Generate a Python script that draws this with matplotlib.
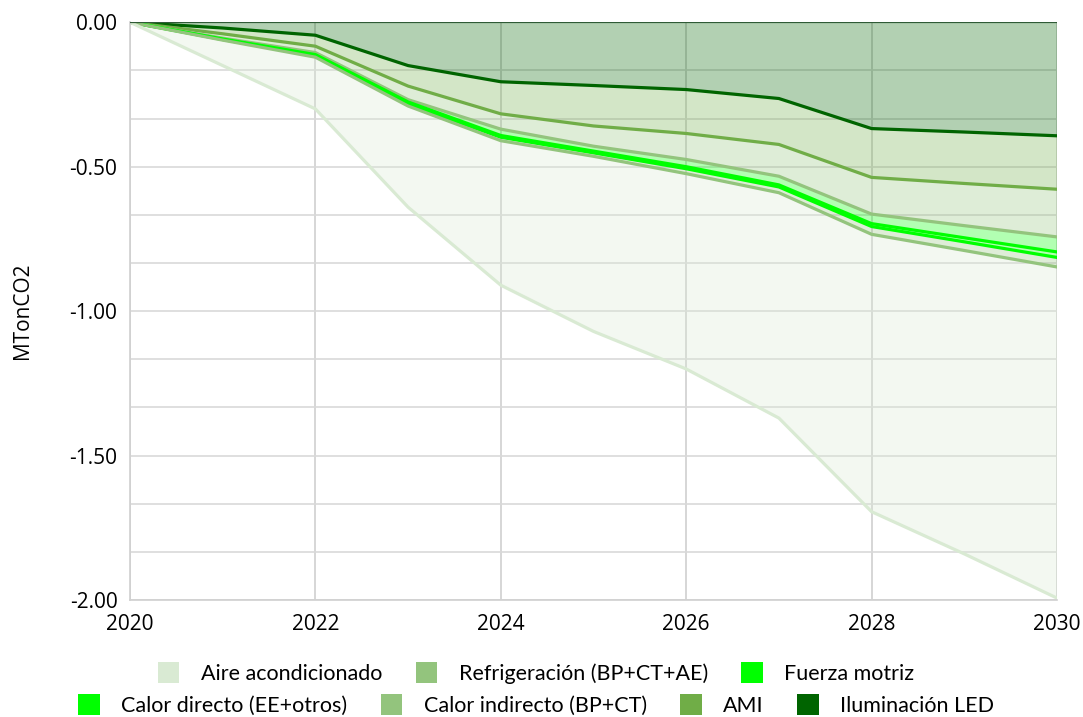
import numpy as np
import matplotlib
matplotlib.use("Agg")
import matplotlib.pyplot as plt
from matplotlib.patches import Patch
from matplotlib.ticker import MultipleLocator

plt.rcParams["font.family"] = ["Open Sans", "DejaVu Sans"]

years = [2020, 2021, 2022, 2023, 2024, 2025, 2026, 2027, 2028, 2029, 2030]

# contribution of each measure (MTonCO2), stacked from the top (LED) downwards
led = [0, -0.020, -0.045, -0.150, -0.206, -0.219, -0.233, -0.264, -0.368, -0.380, -0.393]
ami = [0, -0.020, -0.038, -0.071, -0.111, -0.140, -0.152, -0.159, -0.169, -0.178, -0.185]
calor_ind = [0, -0.015, -0.022, -0.047, -0.053, -0.070, -0.090, -0.110, -0.127, -0.146, -0.165]
calor_dir = [0, -0.003, -0.007, -0.008, -0.022, -0.017, -0.025, -0.030, -0.033, -0.042, -0.052]
fuerza = [0, -0.002, -0.004, -0.007, -0.006, -0.006, -0.007, -0.007, -0.010, -0.014, -0.019]
refrig = [0, -0.002, -0.005, -0.007, -0.012, -0.012, -0.017, -0.020, -0.027, -0.030, -0.033]
aire = [0, -0.088, -0.179, -0.350, -0.500, -0.606, -0.676, -0.780, -0.960, -1.050, -1.146]

series = [led, ami, calor_ind, calor_dir, fuerza, refrig, aire]
names = ["Iluminación LED", "AMI", "Calor indirecto (BP+CT)", "Calor directo (EE+otros)",
         "Fuerza motriz", "Refrigeración (BP+CT+AE)", "Aire acondicionado"]
colors = ["#006400", "#70AD47", "#93C47D", "#00FF00", "#00FF00", "#93C47D", "#D9EAD3"]

fig, ax = plt.subplots(figsize=(10.83, 7.17), dpi=100)
fig.subplots_adjust(left=0.12, right=0.976, top=0.969, bottom=0.163)

# filled bands
ax.stackplot(years, *series, colors=colors, alpha=0.3, linewidth=0)

# border line on the lower edge of each band
cum = np.cumsum(np.array(series), axis=0)
for c, col in zip(cum, colors):
    ax.plot(years, c, color=col, lw=2.3, solid_joinstyle="round")

ax.axhline(0, color="#2F5A36", lw=1.6, zorder=5)

ax.set_xlim(2020, 2030)
ax.set_ylim(-2, 0)
ax.xaxis.set_major_locator(MultipleLocator(2))
ax.yaxis.set_major_locator(MultipleLocator(0.5))
ax.yaxis.set_minor_locator(MultipleLocator(1 / 6))
ax.yaxis.set_major_formatter(plt.FormatStrFormatter("%.2f"))
ax.grid(True, which="both", axis="y", color="#D9D9D9", lw=1.2, zorder=0)
ax.grid(True, which="major", axis="x", color="#D0D0D0", lw=1.2, zorder=0)
ax.set_axisbelow(True)
ax.tick_params(which="both", length=0, labelsize=15)
ax.tick_params(axis="y", pad=9)
ax.tick_params(axis="x", pad=10)
for s in ["top", "right"]:
    ax.spines[s].set_visible(False)
ax.spines["left"].set_color("#D0D0D0")
ax.spines["bottom"].set_color("#D0D0D0")
ax.spines["left"].set_linewidth(1.2)
ax.spines["bottom"].set_linewidth(1.2)

ax.set_ylabel("MTonCO2", fontsize=15, labelpad=26)

# legend in two centred rows, same order as the reference
row1 = [6, 5, 4]
row2 = [3, 2, 1, 0]
for row, ypos in [(row1, 0.061), (row2, 0.017)]:
    handles = [Patch(facecolor=colors[i], edgecolor="none") for i in row]
    fig.legend(handles, [names[i] for i in row], loc="center", bbox_to_anchor=(0.495, ypos),
               ncol=len(row), frameon=False, prop={"family": "Lato", "size": 15.5},
               handlelength=1.0, handleheight=1.1, handletextpad=1.0, columnspacing=1.55,
               borderaxespad=0, borderpad=0)

fig.savefig("out.png", dpi=100)
